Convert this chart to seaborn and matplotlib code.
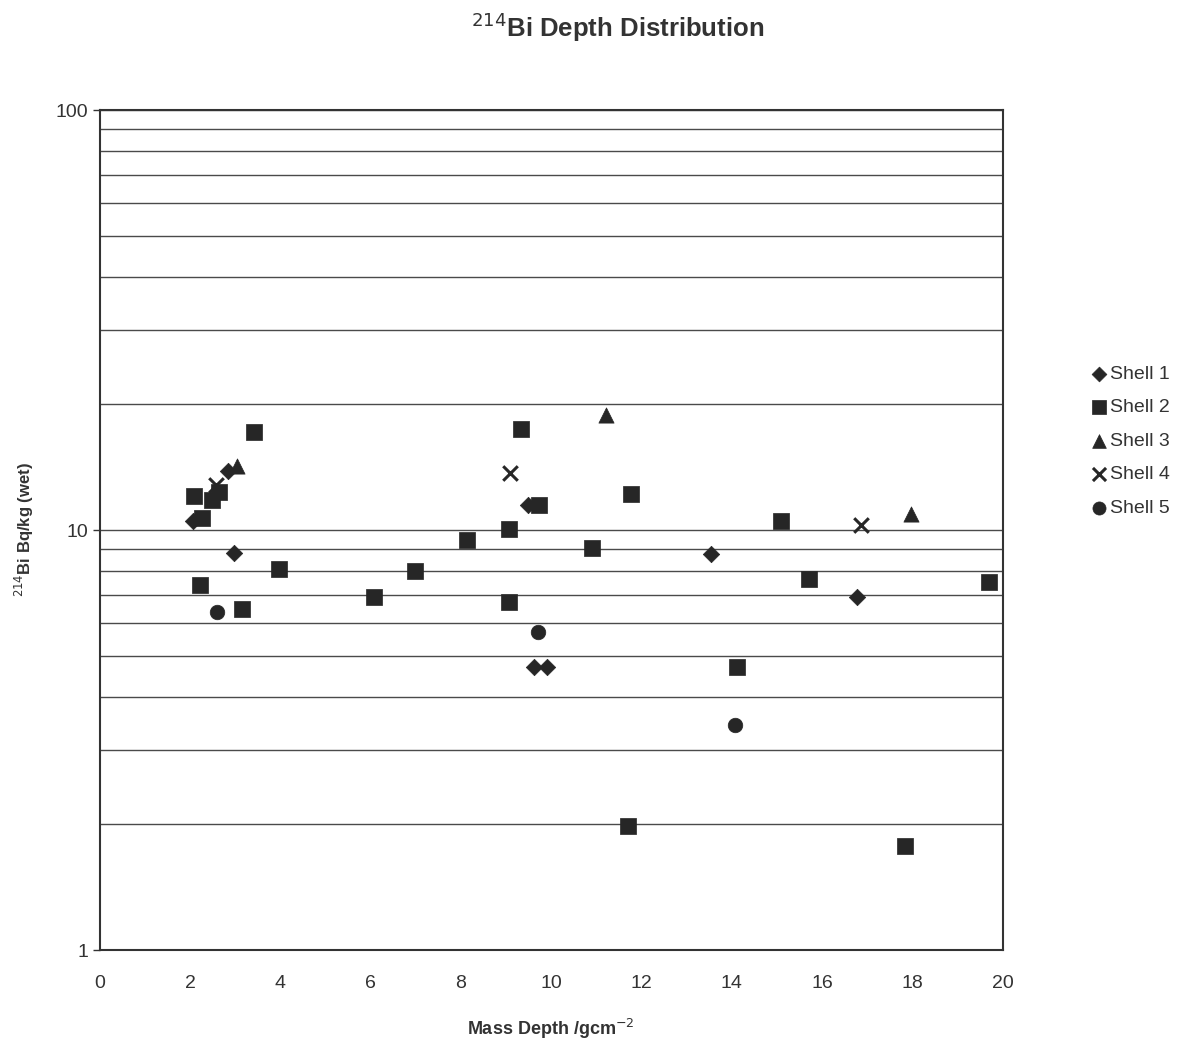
import seaborn as sns
import matplotlib
matplotlib.use('Agg')
import matplotlib.pyplot as plt
import pandas as pd
from matplotlib.ticker import LogLocator, NullFormatter, FixedLocator

# Shell 1 (diamonds)
shell1_x = [2.06, 2.84, 2.97, 9.49, 9.62, 9.91, 13.53, 16.78]
shell1_y = [10.5, 13.8, 8.8, 11.5, 4.72, 4.72, 8.77, 6.92]
# Shell 2 (squares)
shell2_x = [2.08, 2.26, 2.48, 2.64, 3.41, 2.22, 3.15, 3.97, 6.08, 6.98, 8.14, 9.07,
            9.07, 9.33, 9.73, 10.91, 11.77, 11.69, 14.12, 15.08, 15.72, 17.83, 19.69]
shell2_y = [12.05, 10.7, 11.8, 12.3, 17.1, 7.4, 6.49, 8.08, 6.92, 8.0, 9.47, 10.06,
            6.74, 17.4, 11.5, 9.06, 12.2, 1.97, 4.72, 10.5, 7.65, 1.77, 7.52]
# Shell 3 (triangles)
shell3_x = [3.04, 11.22, 17.98]
shell3_y = [14.2, 18.8, 10.9]
# Shell 4 (crosses)
shell4_x = [2.57, 9.09, 16.87]
shell4_y = [12.8, 13.7, 10.3]
# Shell 5 (circles)
shell5_x = [2.59, 9.71, 14.08]
shell5_y = [6.38, 5.72, 3.43]

shells = ['Shell 1', 'Shell 2', 'Shell 3', 'Shell 4', 'Shell 5']
xs = [shell1_x, shell2_x, shell3_x, shell4_x, shell5_x]
ys = [shell1_y, shell2_y, shell3_y, shell4_y, shell5_y]

frames = []
for name, x, y in zip(shells, xs, ys):
    frames.append(pd.DataFrame({'depth': x, 'activity': y, 'shell': name}))
df = pd.concat(frames, ignore_index=True)

sns.set_style('white')
plt.rcParams['font.family'] = ['Liberation Sans', 'DejaVu Sans']

fig = plt.figure(figsize=(11.88, 10.41), dpi=100)
ax = fig.add_axes([0.084, 0.0874, 0.76, 0.8069])

markers = {'Shell 1': 'D', 'Shell 2': 's', 'Shell 3': '^', 'Shell 4': 'X', 'Shell 5': 'o'}
sizes = {'Shell 1': 70, 'Shell 2': 130, 'Shell 3': 120, 'Shell 4': 110, 'Shell 5': 110}

for name in shells:
    sub = df[df['shell'] == name]
    if name == 'Shell 4':
        sns.scatterplot(data=sub, x='depth', y='activity', marker='x', s=110,
                        color='#262626', linewidth=2.2, ax=ax, label=name, zorder=3)
    else:
        sns.scatterplot(data=sub, x='depth', y='activity', marker=markers[name],
                        s=sizes[name], color='#262626', edgecolor='#262626',
                        linewidth=0.5, ax=ax, label=name, zorder=3)

ax.set_yscale('log')
ax.set_xlim(0, 20)
ax.set_ylim(1, 100)
ax.set_xticks(range(0, 21, 2))
ax.yaxis.set_major_locator(FixedLocator([1, 10, 100]))
ax.set_yticklabels(['1', '10', '100'])
ax.yaxis.set_minor_locator(LogLocator(base=10, subs=range(2, 10)))
ax.yaxis.set_minor_formatter(NullFormatter())
ax.grid(True, axis='y', which='both', color='#4a4a4a', linewidth=1.0)
ax.set_axisbelow(True)

for side in ['top', 'right', 'bottom', 'left']:
    ax.spines[side].set_color('#333333')
    ax.spines[side].set_linewidth(1.5)

ax.tick_params(axis='x', which='major', direction='inout', length=8, width=1,
               colors='#333333', labelsize=14, pad=14)
ax.tick_params(axis='y', which='major', direction='out', length=5, width=1,
               colors='#333333', labelsize=14, left=True)
ax.tick_params(axis='y', which='minor', left=False)

ax.set_xlabel('Mass Depth /gcm$^{-2}$', fontsize=13, fontweight='bold', color='#333333', labelpad=18)
ax.set_ylabel('$^{214}$Bi Bq/kg (wet)', fontsize=12, fontweight='bold', color='#333333', labelpad=14)
fig.suptitle('$^{214}$Bi Depth Distribution', x=0.52, y=0.99, fontsize=18.5,
             fontweight='bold', color='#333333')

leg = ax.legend(loc='center left', bbox_to_anchor=(1.076, 0.606), frameon=False,
                fontsize=14, handletextpad=0.1, labelspacing=0.82, markerscale=0.9,
                handlelength=1.0, labelcolor='#333333')

plt.savefig('out.png', dpi=100)
plt.close('all')
